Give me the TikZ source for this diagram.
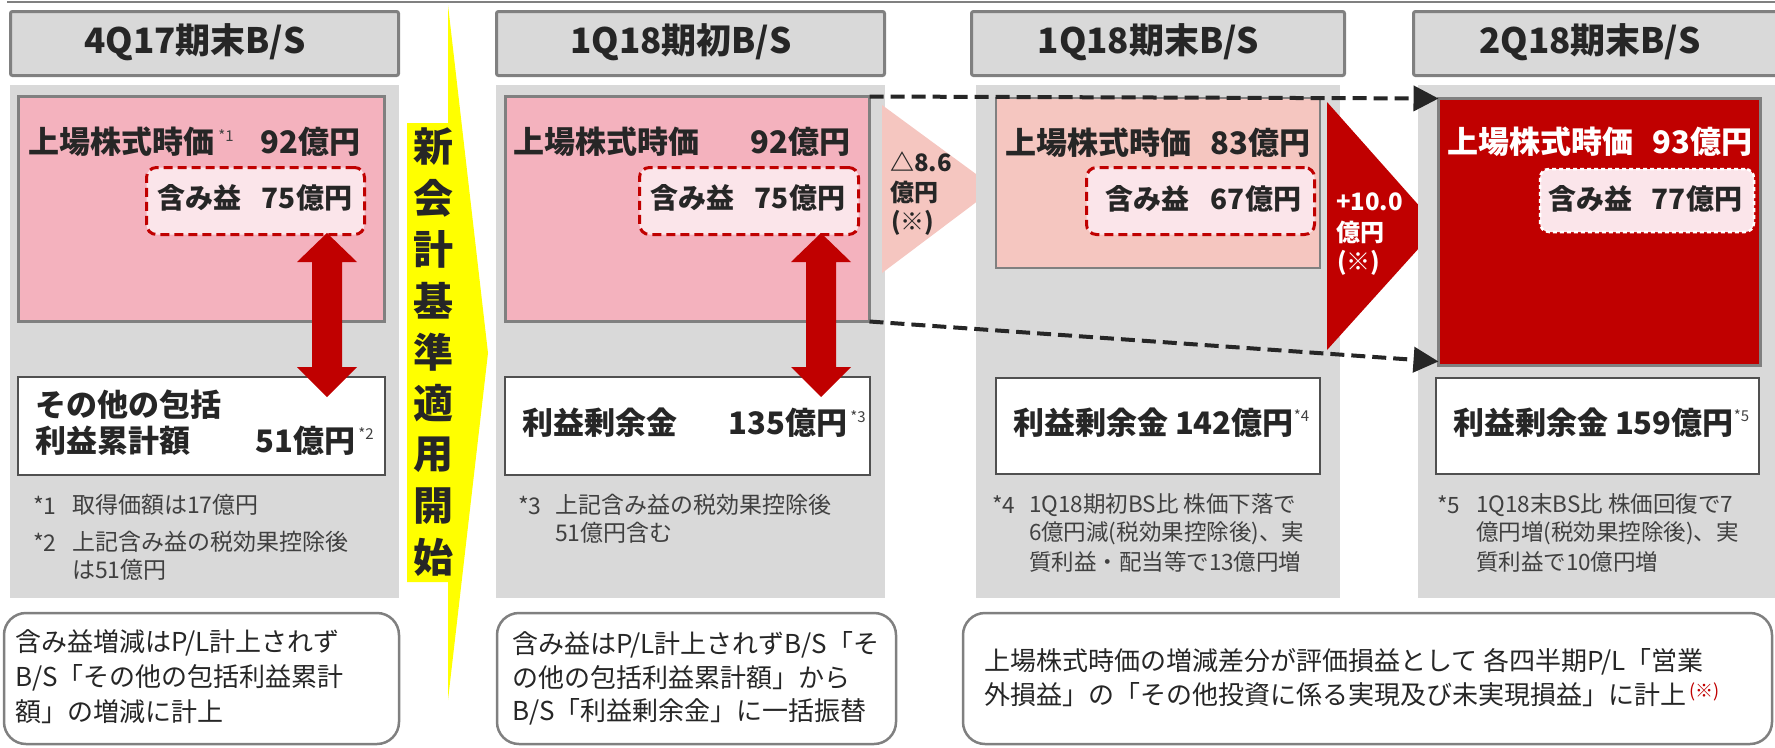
\documentclass[tikz,border=0pt]{standalone}
\usepackage{fontspec}
\setmainfont{Noto Sans CJK JP}
\usetikzlibrary{arrows.meta,calc}
\definecolor{pgray}{HTML}{D9D9D9}
\definecolor{bgray}{HTML}{808080}
\definecolor{wgray}{HTML}{505050}
\definecolor{pink1}{HTML}{F4B2BE}
\definecolor{pink2}{HTML}{F5C6C0}
\definecolor{pinkl}{HTML}{FBE5EA}
\definecolor{dred}{HTML}{C00000}
\definecolor{txt}{HTML}{262626}
\definecolor{ntxt}{HTML}{404040}
\definecolor{yel}{HTML}{FFFF00}
\newcommand\gainarrow[3]{%
  \fill[dred] (#1,#2) -- ++(30,29) -- ++(-15,0) -- (#1+15,#3-30) -- ++(15,0) -- (#1,#3)
    -- ++(-30,-30) -- ++(15,0) -- (#1-15,#2+29) -- ++(-15,0) -- cycle;}
\begin{document}
\begin{tikzpicture}[x=1pt,y=-1pt,
  box/.style={inner sep=0pt,outer sep=0pt,anchor=center},
  titlebox/.style={box,draw=bgray,line width=3pt,fill=pgray,rounded corners=2pt},
  panel/.style={box,fill=pgray},
  pinkbox/.style={box,draw=bgray,line width=3pt,fill=pink1},
  gainbox/.style={box,draw=dred,line width=3pt,dash pattern=on 9pt off 5pt,fill=pinkl,rounded corners=10pt},
  whitebox/.style={box,draw=wgray,line width=2.5pt,fill=white},
  notebox/.style={box,draw=bgray,line width=2.5pt,fill=white,rounded corners=22pt},
  tx/.style={inner sep=0pt,outer sep=0pt},
  ttl/.style={tx,text=txt,font=\fontsize{35pt}{40pt}\selectfont\bfseries},
  big/.style={tx,text=txt,font=\fontsize{31pt}{36pt}\selectfont\bfseries},
  mid/.style={tx,text=txt,font=\fontsize{28pt}{32pt}\selectfont\bfseries},
  supx/.style={tx,text=ntxt,font=\fontsize{15pt}{16pt}\selectfont},
  note/.style={tx,text=ntxt,font=\fontsize{23pt}{26pt}\selectfont},
  notec/.style={tx,text=ntxt,font=\fontsize{22.5pt}{26pt}\selectfont},
  body/.style={tx,text=txt,font=\fontsize{26pt}{30pt}\selectfont},
  tri/.style={tx,font=\fontsize{24pt}{28pt}\selectfont\bfseries},
  vert/.style={tx,text=txt,font=\fontsize{40pt}{44pt}\selectfont\bfseries},
  dasharr/.style={draw=black!85,line width=4pt,dash pattern=on 14pt off 7pt,
    -{Triangle[length=25pt,width=25pt]}},
]
\useasboundingbox (0,0) rectangle (1775,747);
\clip (0,0) rectangle (1775,747);
\fill[white] (0,0) rectangle (1775,747);
% top rule
\draw[bgray,line width=2.5pt] (7,2) -- (1775,2);

% ---------- column 1 ----------
\node[titlebox,minimum width=388pt,minimum height=64pt] (t1) at (204.5,43.5) {};
\node[ttl] (t1l) at (195,42) {4Q17期末B/S};
\node[panel,minimum width=389pt,minimum height=513pt] (p1) at (204.5,341.5) {};
\node[pinkbox,minimum width=366pt,minimum height=225pt] (pk1) at (201.5,209) {};
\node[big,anchor=west] (pk1a) at (28,142) {上場株式時価};
\node[supx] (pk1s) at (226,136) {*1};
\node[big,anchor=east] (pk1b) at (360,142) {92億円};
\node[gainbox,minimum width=218pt,minimum height=67pt] (u1) at (255.5,201) {};
\node[mid,anchor=west] (u1a) at (157,198) {含み益};
\node[mid,anchor=east] (u1b) at (352,198) {75億円};
\node[whitebox,minimum width=367pt,minimum height=98pt] (w1) at (201.5,426) {};
\node[big,anchor=west] (w1a) at (35,405) {その他の包括};
\node[big,anchor=west] (w1b) at (35,441) {利益累計額};
\node[big,anchor=east] (w1c) at (355,441) {51億円};
\node[supx] (w1s) at (366,434) {*2};
\node[note,anchor=west] (n1a) at (33,505) {*1};
\node[note,anchor=west] (n1b) at (72,505) {取得価額は17億円};
\node[note,anchor=west] (n1c) at (33,542) {*2};
\node[note,anchor=west] (n1d) at (72,542) {上記含み益の税効果控除後};
\node[note,anchor=west] (n1e) at (72,570) {は51億円};
\node[notebox,minimum width=395pt,minimum height=131pt] (b1) at (201.5,678.5) {};
\node[body,anchor=west] (b1a) at (15,643) {含み益増減はP/L計上されず};
\node[body,anchor=west] (b1b) at (15,678) {B/S「その他の包括利益累計};
\node[body,anchor=west] (b1c) at (15,712) {額」の増減に計上};
\gainarrow{327}{233}{397}

% ---------- yellow pointer ----------
\fill[yel] (448,5) -- (488,353) -- (448,700) -- (448,582) -- (407,582) -- (407,123) -- (448,123) -- cycle;
\foreach \c [count=\i from 0] in {新,会,計,基,準,適,用,開,始}
  \node[vert] (v\i) at (433,147+51.25*\i) {\c};

% ---------- column 2 ----------
\node[titlebox,minimum width=388pt,minimum height=64pt] (t2) at (690.5,43.5) {};
\node[ttl] (t2l) at (681,42) {1Q18期初B/S};
\node[panel,minimum width=389pt,minimum height=513pt] (p2) at (690.5,341.5) {};
\node[pinkbox,minimum width=364pt,minimum height=225pt] (pk2) at (687.5,209) {};
\node[big,anchor=west] (pk2a) at (513,142) {上場株式時価};
\node[big,anchor=east] (pk2b) at (850,142) {92億円};
\node[gainbox,minimum width=219pt,minimum height=67pt] (u2) at (749,201) {};
\node[mid,anchor=west] (u2a) at (650,198) {含み益};
\node[mid,anchor=east] (u2b) at (845,198) {75億円};
\node[whitebox,minimum width=365pt,minimum height=98pt] (w2) at (687.5,426) {};
\node[big,anchor=west] (w2a) at (522,423) {利益剰余金};
\node[big,anchor=east] (w2b) at (847,423) {135億円};
\node[supx] (w2s) at (858,417) {*3};
\node[note,anchor=west] (n2a) at (518,505) {*3};
\node[note,anchor=west] (n2b) at (555,505) {上記含み益の税効果控除後};
\node[note,anchor=west] (n2c) at (555,533) {51億円含む};
\node[notebox,minimum width=399pt,minimum height=131pt] (b2) at (696.5,678.5) {};
\node[body,anchor=west] (b2a) at (512,645) {含み益はP/L計上されずB/S「そ};
\node[body,anchor=west] (b2b) at (512,678) {の他の包括利益累計額」から};
\node[body,anchor=west] (b2c) at (512,712) {B/S「利益剰余金」に一括振替};
\gainarrow{821}{233}{397}

% pale triangle
\fill[pink2] (882,105) -- (995,188) -- (882,273) -- cycle;
\node[tri,text=txt,anchor=west] (d1) at (890,162) {△8.6};
\node[tri,text=txt,anchor=west] (d2) at (890,192) {億円};
\node[tri,text=txt,anchor=west] (d3) at (891,223) {(※)};

% ---------- column 3 ----------
\node[titlebox,minimum width=373pt,minimum height=64pt] (t3) at (1158,43.5) {};
\node[ttl] (t3l) at (1148.5,42) {1Q18期末B/S};
\node[panel,minimum width=364pt,minimum height=513pt] (p3) at (1158,341.5) {};
\node[box,draw=bgray,line width=2pt,fill=pink2,minimum width=324pt,minimum height=170pt] (pk3) at (1158,183) {};
\node[big,anchor=west] (pk3a) at (1005,143) {上場株式時価};
\node[big,anchor=east] (pk3b) at (1310,143) {83億円};
\node[gainbox,minimum width=228pt,minimum height=67pt] (u3) at (1200.5,201) {};
\node[mid,anchor=west] (u3a) at (1105,199) {含み益};
\node[mid,anchor=east] (u3b) at (1301,199) {67億円};
\node[whitebox,minimum width=324pt,minimum height=96pt] (w3) at (1158,426) {};
\node[big,anchor=west] (w3a) at (1013,423) {利益剰余金 142億円};
\node[supx,anchor=west] (w3s) at (w3a.east) [yshift=7pt] {*4};
\node[notec,anchor=west] (n3a) at (992,505) {*4};
\node[notec,anchor=west] (n3b) at (1029,505) {1Q18期初BS比 株価下落で};
\node[notec,anchor=west] (n3c) at (1029,533) {6億円減(税効果控除後)、実};
\node[notec,anchor=west] (n3d) at (1029,562) {質利益・配当等で13億円増};

% dark red triangle
\fill[dred] (1327,102) -- (1438,227) -- (1327,350) -- cycle;
\node[tri,text=white,anchor=west] (e1) at (1336,202) {+10.0};
\node[tri,text=white,anchor=west] (e2) at (1336,232) {億円};
\node[tri,text=white,anchor=west] (e3) at (1337,263) {(※)};

% ---------- column 4 ----------
\node[titlebox,minimum width=385pt,minimum height=64pt] (t4) at (1606,43.5) {};
\node[ttl] (t4l) at (1590,42) {2Q18期末B/S};
\node[panel,minimum width=364pt,minimum height=513pt] (p4) at (1600,341.5) {};
\node[box,draw=bgray,line width=3pt,fill=dred,minimum width=322pt,minimum height=267pt] (rb4) at (1599.5,232) {};
\node[big,text=white,anchor=west] (rb4a) at (1447,142) {上場株式時価};
\node[big,text=white,anchor=east] (rb4b) at (1752,142) {93億円};
\node[box,draw=white,line width=2.5pt,dash pattern=on 4pt off 3pt,fill=pinkl,rounded corners=9pt,minimum width=214pt,minimum height=63pt] (u4) at (1647,200.5) {};
\node[mid,anchor=west] (u4a) at (1548,199) {含み益};
\node[mid,anchor=east] (u4b) at (1742,199) {77億円};
\node[whitebox,minimum width=323pt,minimum height=96pt] (w4) at (1597.5,426) {};
\node[big,anchor=west] (w4a) at (1453,423) {利益剰余金 159億円};
\node[supx,anchor=west] (w4s) at (w4a.east) [yshift=7pt] {*5};
\node[notec,anchor=west] (n4a) at (1437,505) {*5};
\node[notec,anchor=west] (n4b) at (1476,505) {1Q18末BS比 株価回復で7};
\node[notec,anchor=west] (n4c) at (1476,533) {億円増(税効果控除後)、実};
\node[notec,anchor=west] (n4d) at (1476,562) {質利益で10億円増};

% bottom right note
\node[notebox,minimum width=809pt,minimum height=131pt] (b3) at (1367.5,678.5) {};
\node[body,anchor=west] (b3a) at (984,662) {上場株式時価の増減差分が評価損益として 各四半期P/L「営業};
\node[body,anchor=west] (b3b) at (984,695) {外損益」の「その他投資に係る実現及び未実現損益」に計上};
\node[tx,text=dred,font=\fontsize{18pt}{20pt}\selectfont,anchor=north west] (b3c) at ([xshift=3pt]b3b.north east) {(※)};

% dashed transfer arrows
\draw[dasharr] (pk2.north east) -- (rb4.north west);
\draw[dasharr] (pk2.south east) -- ($(rb4.south west)+(0,-4)$);
\end{tikzpicture}
\end{document}
